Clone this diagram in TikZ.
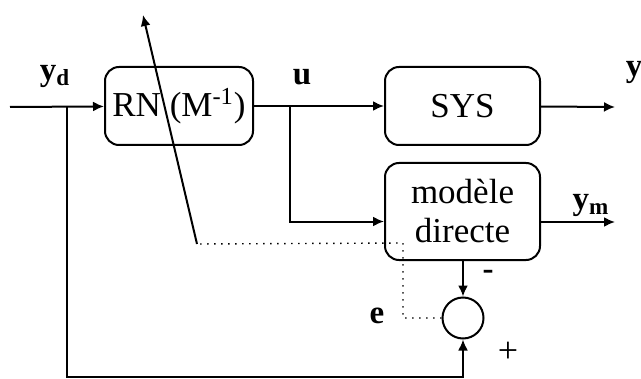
\documentclass[tikz,border=0pt]{standalone}
\usepackage{fontspec}
\setmainfont{Liberation Serif}
\usetikzlibrary{arrows.meta, positioning}
\tikzset{
  box/.style={draw, rounded corners=7pt, line width=1pt, align=center,
              font=\fontsize{17.5}{19.5}\selectfont, inner sep=2pt},
  sumnode/.style={draw, circle, line width=1pt, minimum size=20.5pt, inner sep=0pt},
  flow/.style={-{Latex[length=5.5pt, width=5pt]}, line width=1pt},
  errline/.style={line width=0.7pt, dash pattern=on 0.7pt off 2.8pt},
  lbl/.style={font=\fontsize{16.5}{18}\selectfont\bfseries, inner sep=0pt},
  sgn/.style={font=\fontsize{18}{20}\selectfont, inner sep=0pt},
}
\begin{document}
\begin{tikzpicture}[x=0.5pt, y=-0.5pt]
  \useasboundingbox (0,0) rectangle (641,379);

  % blocks
  \node[box, minimum width=74pt, minimum height=39pt] (rn) at (179,106) {RN (M\textsuperscript{-1})};
  \node[box, minimum width=77.5pt, minimum height=39pt] (sys) at (462.5,106) {SYS};
  \node[box, minimum width=77.5pt, minimum height=48.5pt] (mod) at (462.5,211.5) {mod\`ele\\ directe};
  \node[sumnode] (sum) at (463,318) {};

  % junctions and free ends
  \coordinate (in) at (10,107);
  \coordinate (ydb) at (67,107);
  \coordinate (bot) at (67,377);
  \coordinate (ub) at (290,107);
  \coordinate (yout) at (615,107);
  \coordinate (ymout) at (615,222);
  \coordinate (ecorner) at (403,243);
  \coordinate (adj) at (197,244);
  \coordinate (adjtip) at (143,15);

  % signal flow
  \draw[flow] (in) -- (rn);
  \draw[flow] (rn) -- (sys);
  \draw[flow] (sys) -- (yout);
  \draw[flow] (ub) |- ([yshift=-5pt]mod.west);
  \draw[flow] (mod.east |- ymout) -- (ymout);
  \draw[flow] (mod.south -| sum.north) -- (sum.north);
  \draw[flow] (ydb) -- (bot) -| (sum.south);

  % error back to the network weights
  \draw[errline] (sum.west) -| (ecorner) -- (adj);
  \draw[flow] (adj) -- (adjtip);

  % labels
  \node[lbl] (lyd) at (55,76) {y\textsubscript{d}};
  \node[lbl] (lu) at (302,77) {u};
  \node[lbl] (ly) at (634,72) {y};
  \node[lbl] (lym) at (591,205) {y\textsubscript{m}};
  \node[lbl] (le) at (377,316) {e};
  \node[lbl] (lminus) at (488,275) {-};
  \node[sgn] (lplus) at (508,352) {+};
\end{tikzpicture}
\end{document}
